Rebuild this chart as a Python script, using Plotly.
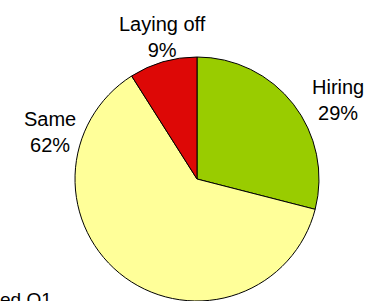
import plotly.graph_objects as go

labels = ["Hiring", "Same", "Laying off"]
values = [29, 62, 9]
colors = ["#99CC00", "#FFFF99", "#DD0806"]
caption = "ed Q1"

W, H = 375, 301
FONT = "Arial, Liberation Sans, sans-serif"

fig = go.Figure(go.Pie(
    labels=labels,
    values=values,
    sort=False,
    direction="clockwise",
    rotation=0,
    marker=dict(colors=colors, line=dict(color="#000000", width=1)),
    textinfo="none",
    hoverinfo="label+percent",
    domain=dict(x=[75 / W, 319 / W], y=[0, 244 / H]),
    showlegend=False,
))

# label positions (pixels from top-left)
label_pos = {"Hiring": (338, 100), "Same": (50, 132), "Laying off": (162, 37)}
annotations = []
for lab, val in zip(labels, values):
    px, py = label_pos[lab]
    annotations.append(dict(
        text=f"{lab}<br>{val}%", x=px / W, y=1 - py / H,
        xref="paper", yref="paper", xanchor="center", yanchor="middle",
        showarrow=False, font=dict(family=FONT, size=20, color="#000000"),
    ))
annotations.append(dict(
    text=caption, x=-2 / W, y=1 - 287 / H, xref="paper", yref="paper",
    xanchor="left", yanchor="top", showarrow=False,
    font=dict(family=FONT, size=19, color="#000000"),
))

fig.update_layout(
    width=W, height=H,
    margin=dict(l=0, r=0, t=0, b=0),
    paper_bgcolor="#FFFFFF", plot_bgcolor="#FFFFFF",
    annotations=annotations,
)

fig.write_html(
    "out.html",
    config={"displayModeBar": False},
    post_script="document.body.style.margin='0';document.body.style.overflow='hidden';",
)
